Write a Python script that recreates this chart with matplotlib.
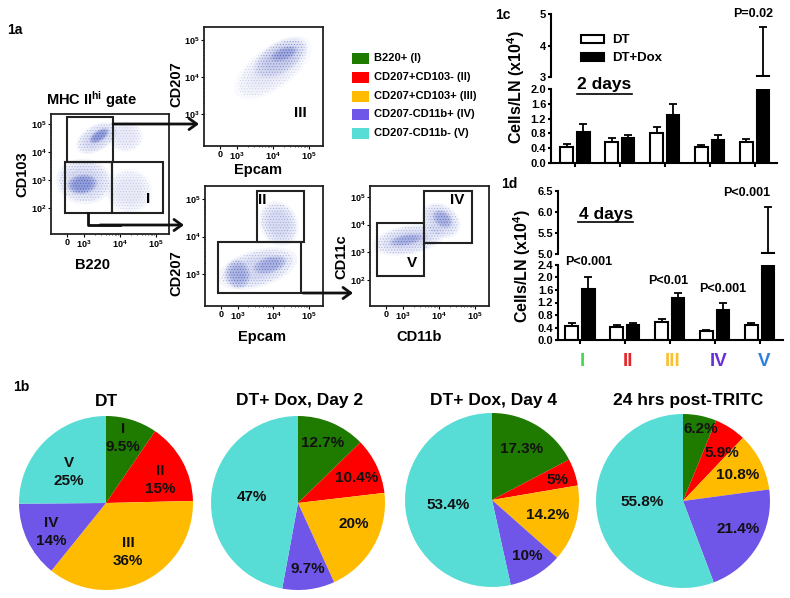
import matplotlib
matplotlib.use('Agg')
import matplotlib.pyplot as plt
from matplotlib.patches import Ellipse, Rectangle

plt.rcParams['font.family'] = ['Liberation Sans', 'DejaVu Sans']
plt.rcParams['font.weight'] = 'bold'
plt.rcParams['mathtext.fontset'] = 'custom'
plt.rcParams['mathtext.bf'] = 'Liberation Sans:bold'
plt.rcParams['mathtext.rm'] = 'Liberation Sans:bold'
plt.rcParams['hatch.linewidth'] = 0.5

W, H = 790, 598

# subset colours and names
subset_names = ['B220+ (I)', 'CD207+CD103- (II)', 'CD207+CD103+ (III)', 'CD207-CD11b+ (IV)', 'CD207-CD11b- (V)']
subset_colors = ['#1F7A00', '#FF0000', '#FFBB00', '#6F55E8', '#58DCD6']
romans = ['I', 'II', 'III', 'IV', 'V']
roman_colors = ['#45D84C', '#E5262B', '#FAC02E', '#6A30D8', '#2F7FE0']

# 1b pies
pie_titles = ['DT', 'DT+ Dox, Day 2', 'DT+ Dox, Day 4', '24 hrs post-TRITC']
pie_values = [[9.5, 15, 36, 14, 25],
              [12.7, 10.4, 20, 9.7, 47],
              [17.3, 5, 14.2, 10, 53.4],
              [6.2, 5.9, 10.8, 21.4, 55.8]]

# 1c, 2 days
c_dt = [0.42, 0.58, 0.82, 0.44, 0.57]
c_dt_top = [0.50, 0.67, 0.96, 0.49, 0.66]
c_dox = [0.83, 0.68, 1.30, 0.63, 3.03]
c_dox_top = [1.05, 0.75, 1.60, 0.76, 4.60]

# 1d, 4 days
d_dt = [0.45, 0.42, 0.57, 0.30, 0.47]
d_dt_top = [0.55, 0.49, 0.67, 0.32, 0.53]
d_dox = [1.63, 0.48, 1.35, 0.97, 5.03]
d_dox_top = [2.03, 0.56, 1.50, 1.18, 6.12]

# flow panels, in display decades: gates (x0, x1, y0, y1)
main_gates = [(2.53, 3.81, 3.64, 5.25), (2.47, 3.78, 1.82, 3.64), (3.78, 5.19, 1.82, 3.64)]
top_gates = []
low_gates = [(3.53, 4.86, 3.85, 5.21), (2.44, 4.78, 2.50, 3.85)]
right_gates = [(3.58, 4.92, 3.35, 5.20), (2.28, 3.58, 2.14, 4.07)]

# density clouds estimated by eye: x, y, width, height, angle, strength
main_clouds = [(3.35, 4.50, 1.40, 0.85, 45, 1), (3.42, 4.58, 0.70, 0.35, 45, 3),
               (3.00, 2.95, 1.55, 1.65, 20, 1), (2.95, 2.85, 0.85, 0.70, 20, 3),
               (4.15, 4.55, 1.00, 1.10, 0, 0), (4.25, 2.60, 1.30, 1.60, 0, 0)]
top_clouds = [(4.00, 4.25, 2.50, 1.15, 35, 0), (4.20, 4.52, 1.65, 0.85, 30, 1), (4.30, 4.62, 0.80, 0.35, 20, 2)]
low_clouds = [(4.15, 4.35, 1.05, 1.25, 30, 1), (3.55, 3.15, 2.30, 1.00, 15, 1), (3.00, 3.00, 0.70, 0.80, 20, 2),
              (3.90, 3.25, 1.00, 0.45, 15, 2)]
right_clouds = [(4.05, 4.15, 1.00, 1.35, 30, 1), (4.10, 4.20, 0.50, 0.70, 30, 2),
                (3.15, 3.45, 2.05, 1.05, 15, 1), (3.10, 3.45, 1.00, 0.40, 15, 2)]
cloud_alpha = [0.03, 0.06, 0.10, 0.18]
decade_minor = [0.30, 0.48, 0.60, 0.70, 0.78, 0.85, 0.90, 0.95]


def px_axes(left, top, right, bottom):
    return fig.add_axes([left / W, 1 - bottom / H, (right - left) / W, (bottom - top) / H])


fig = plt.figure(figsize=(W / 100, H / 100), dpi=100)

# overlay in image pixels for the labels and arrows
ov = fig.add_axes([0, 0, 1, 1], zorder=20)
ov.set_xlim(0, W)
ov.set_ylim(H, 0)
ov.axis('off')


def label(x, y, s, size=10.5, rotation=0, color='black', ha='center'):
    ov.text(x, y, s, fontsize=size, fontweight='bold', rotation=rotation, color=color, ha=ha, va='center')


def flow_panel(box, xlim, ylim, yticks, gates, clouds):
    ax = px_axes(*box)
    ax.set_xlim(xlim)
    ax.set_ylim(ylim)
    for x, y, w, h, a, s in clouds:
        # nested shrinking ellipses give the cloud a soft edge
        for scale in (1.0, 0.85, 0.7, 0.55):
            ax.add_patch(Ellipse((x, y), w * scale, h * scale, angle=a, fc='#5A6CC8', ec='none', alpha=cloud_alpha[s]))
        ax.add_patch(Ellipse((x, y), w * 0.9, h * 0.9, angle=a, fc='none', ec='#4A5CB8', lw=0, hatch='......',
                             alpha=0.2 + 0.12 * s))
    for x0, x1, y0, y1 in gates:
        ax.add_patch(Rectangle((x0, y0), x1 - x0, y1 - y0, fc='none', ec='#222222', lw=1.5))
    ax.set_xticks([2.53, 3, 4, 5])
    ax.set_xticklabels(['0', r'$\mathbf{10^3}$', r'$\mathbf{10^4}$', r'$\mathbf{10^5}$'], fontsize=6.5)
    ax.set_yticks(yticks)
    ax.set_yticklabels([r'$\mathbf{10^%d}$' % t for t in yticks], fontsize=6.5)
    ax.set_xticks([d + m for d in (3, 4) for m in decade_minor], minor=True)
    ax.set_yticks([d + m for d in yticks[:-1] for m in decade_minor], minor=True)
    ax.tick_params(length=2, width=0.8, pad=1)
    ax.tick_params(which='minor', length=1, width=0.5)
    for s in ax.spines.values():
        s.set_linewidth(1.3)
        s.set_color('#222222')
    return ax


flow_panel((51, 114, 169, 234), (2.08, 5.36), (1.07, 5.36), [2, 3, 4, 5], main_gates, main_clouds)
flow_panel((204, 27, 323, 146), (2.08, 5.39), (2.14, 5.35), [3, 4, 5], top_gates, top_clouds)
flow_panel((205, 186, 323, 306), (2.08, 5.39), (2.15, 5.35), [3, 4, 5], low_gates, low_clouds)
flow_panel((370, 186, 489, 306), (2.08, 5.39), (1.07, 5.39), [2, 3, 4, 5], right_gates, right_clouds)

# arrows of 1a
arrow = dict(arrowstyle='->,head_length=0.55,head_width=0.4', lw=2, color='#111111', shrinkA=0, shrinkB=0)
ov.annotate('', xy=(199, 124), xytext=(113, 124), arrowprops=arrow)
ov.plot([88, 88, 120], [213, 225, 225], color='#111111', lw=2)
ov.annotate('', xy=(184, 225), xytext=(100, 225), arrowprops=arrow)
ov.annotate('', xy=(353, 293), xytext=(303, 293), arrowprops=arrow)

label(15, 30, '1a', 10)
label(46, 100, r'MHC II$\mathbf{^{hi}}$ gate', 10.5, ha='left')
label(22, 174, 'CD103', 10.5, rotation=90)
label(93, 265, 'B220')
label(176, 84, 'CD207', rotation=90)
label(258, 170, 'Epcam')
label(176, 273, 'CD207', rotation=90)
label(262, 337, 'Epcam')
label(341, 257, 'CD11c', rotation=90)
label(419, 337, 'CD11b')
label(300, 113, 'III', 11)
label(148, 199, 'I', 11)
label(262, 200, 'II', 11)
label(457, 200, 'IV', 11)
label(412, 263, 'V', 11)

# subset legend of 1a
legend_rows = [58, 77, 96, 114, 133]
for name, color, y in zip(subset_names, subset_colors, legend_rows):
    ov.add_patch(Rectangle((352, y - 5.5), 17, 11, fc=color, ec='none'))
    label(374, y, name, 8, ha='left')

# 1b pies
pie_centres = [(106, 503), (298, 503), (492, 500), (683, 501)]
title_x = [106, 300, 493, 688]
for vals, title, (cx, cy), tx in zip(pie_values, pie_titles, pie_centres, title_x):
    ax = px_axes(cx - 87, cy - 87, cx + 87, cy + 87)
    ax.pie(vals, colors=subset_colors, startangle=90, counterclock=False, radius=1)
    ax.set_xlim(-1, 1)
    ax.set_ylim(-1, 1)
    label(tx, 401, title, 12.5)

label(21, 387, '1b', 10)
pie_labels = [
    (123, 438, 'I\n9.5%'), (160, 480, 'II\n15%'), (128, 552, 'III\n36%'), (51, 532, 'IV\n14%'), (69, 472, 'V\n25%'),
    (323, 443, '12.7%'), (357, 478, '10.4%'), (354, 524, '20%'), (308, 569, '9.7%'), (252, 497, '47%'),
    (522, 449, '17.3%'), (557, 480, '5%'), (548, 515, '14.2%'), (527, 556, '10%'), (448, 505, '53.4%'),
    (701, 429, '6.2%'), (722, 453, '5.9%'), (738, 475, '10.8%'), (738, 529, '21.4%'), (642, 502, '55.8%'),
]
for x, y, s in pie_labels:
    ov.text(x, y, s, fontsize=11, fontweight='bold', ha='center', va='center', linespacing=1.45, color='#111111')


def bar_pair(box_top, box_low, left, right, first, yl_top, yl_low, ticks_top, ticks_low, fmt, dt, dt_top, dox, dox_top):
    spacing = 44.9
    xlim = ((left - first) / spacing, (right - first) / spacing)
    axes = [px_axes(left, box_top[0], right, box_top[1]), px_axes(left, box_low[0], right, box_low[1])]
    xs = range(len(dt))
    off = 8.3 / spacing
    wid = 12.5 / spacing
    handles = []
    for ax, yl, ticks in zip(axes, (yl_top, yl_low), (ticks_top, ticks_low)):
        b1 = ax.bar([x - off for x in xs], dt, wid, color='white', edgecolor='black', lw=1.5)
        b2 = ax.bar([x + off for x in xs], dox, wid, color='black', edgecolor='black', lw=1.5)
        handles = [b1, b2]
        ax.errorbar([x - off for x in xs], dt, yerr=[[0] * len(dt), [t - v for t, v in zip(dt_top, dt)]],
                    fmt='none', ecolor='black', elinewidth=1.3, capsize=3, capthick=1.3)
        ax.errorbar([x + off for x in xs], dox, yerr=[[0] * len(dox), [t - v for t, v in zip(dox_top, dox)]],
                    fmt='none', ecolor='black', elinewidth=1.3, capsize=3, capthick=1.3)
        ax.set_xlim(xlim)
        ax.set_ylim(yl)
        ax.set_yticks(ticks)
        ax.set_yticklabels([fmt % t for t in ticks], fontsize=8)
        ax.tick_params(axis='y', length=2.5, width=1.5, pad=1)
        ax.spines['top'].set_visible(False)
        ax.spines['right'].set_visible(False)
        ax.spines['left'].set_linewidth(1.5)
        ax.spines['bottom'].set_linewidth(1.5)
        ax.patch.set_alpha(0)
    axes[0].spines['bottom'].set_visible(False)
    axes[0].set_xticks([])
    axes[1].set_xticks(list(xs))
    axes[1].set_xticklabels([])
    axes[1].tick_params(axis='x', length=3, width=1.5)
    return axes, handles


# 1c
c_axes, c_handles = bar_pair((14, 77), (89, 163), 551, 777, 575, (3, 5), (0, 2.0), [3, 4, 5],
                             [0, 0.4, 0.8, 1.2, 1.6, 2.0], '%.1f', c_dt, c_dt_top, c_dox, c_dox_top)
c_axes[0].set_yticklabels(['3', '4', '5'], fontsize=8)
c_axes[0].legend(c_handles, ['DT', 'DT+Dox'], loc='upper left', bbox_to_anchor=(0.105, 0.78), frameon=False,
                 fontsize=9.5, handlelength=1.75, handleheight=0.6, handletextpad=0.6, labelspacing=0.45, borderpad=0)
label(503, 15, '1c', 10)
label(516, 87, 'Cells/LN (x10$\\mathbf{^4}$)', 11.5, rotation=90)
label(753, 14, 'P=0.02', 9)
label(604, 85, '2 days', 12.5)
ov.plot([577, 632], [94, 94], color='black', lw=1.2)

# 1d
d_axes, d_handles = bar_pair((191, 254), (265, 340), 558, 783, 580, (5, 6.5), (0, 2.4), [5, 5.5, 6, 6.5],
                             [0, 0.4, 0.8, 1.2, 1.6, 2.0, 2.4], '%.1f', d_dt, d_dt_top, d_dox, d_dox_top)
label(509, 184, '1d', 10)
label(522, 266, 'Cells/LN (x10$\\mathbf{^4}$)', 11.5, rotation=90)
label(747, 193, 'P<0.001', 9)
label(589, 262, 'P<0.001', 9)
label(668, 281, 'P<0.01', 9)
label(723, 289, 'P<0.001', 9)
label(606, 214, '4 days', 12.5)
ov.plot([578, 633], [222, 222], color='black', lw=1.2)

for i, (r, col) in enumerate(zip(romans, roman_colors)):
    label(582 + 45.5 * i, 361, r, 13.5, color=col)

fig.savefig('out.png', dpi=100)
